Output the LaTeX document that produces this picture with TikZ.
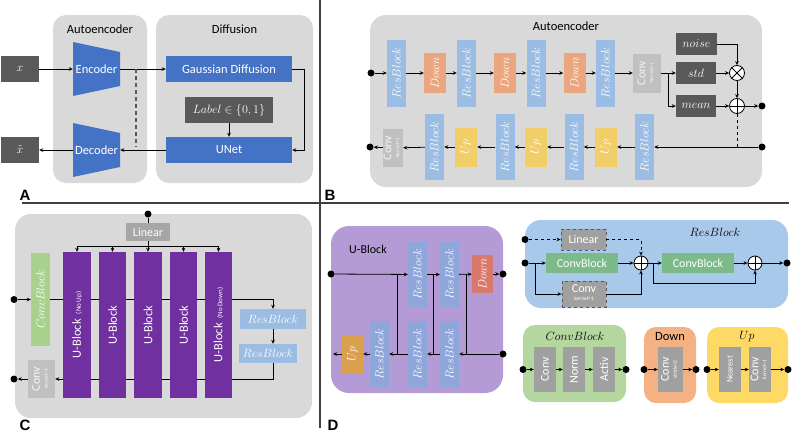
\documentclass[tikz,border=0pt]{standalone}
\usepackage{fontspec}
\setmainfont{Carlito}
\newfontfamily\panelfont{Liberation Sans}
\usepackage{graphicx}
\usepackage{xcolor}
\usepackage{tikz}
\usetikzlibrary{arrows.meta,positioning}
\definecolor{panelgray}{HTML}{D9D9D9}
\definecolor{darkbox}{HTML}{595959}
\definecolor{mainblue}{HTML}{4472C4}
\definecolor{resblue}{HTML}{9BBDE3}
\definecolor{resblueU}{HTML}{8EA6DA}
\definecolor{downorange}{HTML}{EBA67F}
\definecolor{upyellow}{HTML}{F2CE68}
\definecolor{convgray}{HTML}{C0C0C0}
\definecolor{lingray}{HTML}{A6A6A6}
\definecolor{cbgreen}{HTML}{A9D18E}
\definecolor{ublock}{HTML}{7030A0}
\definecolor{lilac}{HTML}{B59BD5}
\definecolor{downred}{HTML}{D9796B}
\definecolor{uporange}{HTML}{D9A04E}
\definecolor{resbg}{HTML}{A9C9EA}
\definecolor{cbgreenR}{HTML}{7DBA89}
\definecolor{smallgray}{HTML}{A0A0A0}
\definecolor{greenbg}{HTML}{B4D7A0}
\definecolor{downbg}{HTML}{F4B183}
\definecolor{upbg}{HTML}{FFD966}
\definecolor{sepline}{HTML}{404040}
\newcommand{\fsz}[1]{\fontsize{#1}{#1}\selectfont}
\newcommand{\vtxt}[1]{\rotatebox{90}{#1}}
\newcommand{\convtxt}[1]{\begin{tabular}{@{}c@{}}Conv\\[-4pt]{\fsz{5.5}#1}\end{tabular}}

\begin{document}
\begin{tikzpicture}[x=1pt, y=-1pt,
      >={Stealth[length=4pt,width=3.6pt]},
      panel/.style={fill=panelgray, rounded corners=16pt, inner sep=0pt},
      blk/.style={inner sep=0pt, align=center, font=\fsz{12}},
      dark/.style={blk, fill=darkbox, text=white},
      bluebox/.style={blk, fill=mainblue, text=white, font=\fsz{12.5}},
      resb/.style={blk, fill=resblue, text=white, minimum width=19pt},
      resbU/.style={blk, fill=resblueU, text=white, minimum width=19pt},
      downb/.style={blk, fill=downorange, text=white, minimum width=22pt},
      upb/.style={blk, fill=upyellow, text=white, minimum width=22pt},
      convb/.style={blk, fill=convgray, text=white!92!gray},
      purpb/.style={blk, fill=ublock, text=white, font=\fsz{12.5}},
      grayb/.style={blk, fill=smallgray, text=white},
      dashbox/.style={blk, fill=smallgray, text=white, draw=darkbox, dashed, line width=0.8pt},
      greenR/.style={blk, fill=cbgreenR, text=white},
      title/.style={font=\fsz{12.5}},
      tag/.style={font=\panelfont\bfseries\fsz{15}},
      arr/.style={->, line width=0.8pt},
      line/.style={line width=0.8pt},
      dot/.style={circle, fill=black, inner sep=0pt, minimum size=7pt},
      sumnode/.style={circle, draw, fill=white, inner sep=0pt, minimum size=15pt, line width=0.8pt}
    ]
    \useasboundingbox (0,0) rectangle (793,434);
    \draw[sepline, line width=1.1pt] (22,203) -- (789,203);
    \draw[sepline, line width=1.1pt] (320,0) -- (320,428);

    % A
    \node[panel, rounded corners=13pt, minimum width=94pt, minimum height=168pt] (aeA) at (100,99) {};
    \node[panel, rounded corners=13pt, minimum width=157pt, minimum height=168pt] (dfA) at (234.5,99) {};
    \node[title] (aeAt) at (100,29) {Autoencoder};
    \node[title] (dfAt) at (234.5,29) {Diffusion};
    \fill[mainblue] (73,42) -- (120,52) -- (120,86) -- (73,96) -- cycle;
    \fill[mainblue] (73,123) -- (120,133) -- (120,167) -- (73,177) -- cycle;
    \node[blk, text=white, font=\fsz{12.5}, minimum width=47pt, minimum height=20pt] (enc) at (96.5,69) {Encoder};
    \node[blk, text=white, font=\fsz{12.5}, minimum width=47pt, minimum height=20pt] (dec) at (96.5,150) {Decoder};
    \node[dark, minimum width=38pt, minimum height=26pt] (xin) at (20,69) {$x$};
    \node[dark, minimum width=38pt, minimum height=26pt] (xout) at (20,150) {$\tilde{x}$};
    \node[bluebox, minimum width=126pt, minimum height=26pt] (gauss) at (229,69) {Gaussian Diffusion};
    \node[bluebox, minimum width=126pt, minimum height=26pt] (unet) at (229,150) {UNet};
    \node[dark, minimum width=88pt, minimum height=26pt, font=\fsz{13}] (lab) at (229,110) {$Label \in \{0,1\}$};
    \draw[arr] (xin) -- (enc);
    \draw[arr] (enc) -- (gauss);
    \draw[arr] (gauss.east) -- ++(12,0) |- (unet.east);
    \draw[arr] (lab) -- (unet);
    \draw[arr] (unet) -- (dec);
    \draw[arr] (dec) -- (xout);
    \coordinate (tapT) at (136,69);
    \coordinate (tapB) at (136,147);
    \draw[darkbox, line width=1.3pt, dash pattern=on 4pt off 3pt] (tapT) -- (tapB);
    \node[tag] (tagA) at (25,195) {A};

    % B
    \node[panel, minimum width=392pt, minimum height=172pt] (aeB) at (566,101) {};
    \node[title] (aeBt) at (566,26) {Autoencoder};
    \node[dot] (inB) at (371,73) {};
    \foreach \n/\x in {rb1/396.5, rb2/466.5, rb3/536, rb4/605.5}
      \node[resb, minimum height=67pt] (\n) at (\x,73) {\vtxt{$ResBlock$}};
    \foreach \n/\x in {dn1/435, dn2/505, dn3/574.5}
      \node[downb, minimum height=40pt] (\n) at (\x,73) {\vtxt{$Down$}};
    \node[convb, minimum width=28pt, minimum height=39pt] (cvB) at (647,73) {\vtxt{\convtxt{Kernel=1}}};
    \node[dark, minimum width=41pt, minimum height=22pt] (noise) at (696.5,44) {$noise$};
    \node[dark, minimum width=40pt, minimum height=22pt] (std) at (696,73) {$std$};
    \node[dark, minimum width=40pt, minimum height=22pt] (mean) at (696,106) {$mean$};
    \node[sumnode] (mulB) at (737,73) {};
    \node[sumnode] (addB) at (737,106) {};
    \draw[line] (mulB.north west) -- (mulB.south east) (mulB.north east) -- (mulB.south west);
    \draw[line] (addB.north) -- (addB.south) (addB.west) -- (addB.east);
    \node[dot] (outB) at (762,106) {};
    \foreach \a/\b in {inB/rb1, rb1/dn1, dn1/rb2, rb2/dn2, dn2/rb3, rb3/dn3, dn3/rb4, rb4/cvB, cvB/std, std/mulB, mulB/addB, mean/addB, addB/outB}
      \draw[arr] (\a) -- (\b);
    \draw[arr] (cvB.east) ++(7,0) |- (mean);
    \draw[arr] (noise) -| (mulB);
    \node[dot] (inB2) at (762,147) {};
    \coordinate (tapB2) at (737,147);
    \draw[line, dashed] (addB) -- (tapB2);
    \foreach \n/\x in {rb5/644.5, rb6/574, rb7/505, rb8/434.5}
      \node[resb, minimum height=66pt] (\n) at (\x,147) {\vtxt{$ResBlock$}};
    \foreach \n/\x in {up1/606, up2/536, up3/466}
      \node[upb, minimum height=39pt] (\n) at (\x,147) {\vtxt{$Up$}};
    \node[convb, minimum width=20pt, minimum height=38pt] (cvB2) at (393,148) {\vtxt{\convtxt{Kernel=1}}};
    \node[dot] (outB2) at (370,147) {};
    \foreach \a/\b in {inB2/rb5, rb5/up1, up1/rb6, rb6/up2, up2/rb7, rb7/up3, up3/rb8, rb8/cvB2, cvB2/outB2}
      \draw[arr] (\a) -- (\b);
    \node[tag] (tagB) at (330,195) {B};

    % C
    \node[panel, minimum width=297pt, minimum height=204pt] (unC) at (163.5,316) {};
    \node[blk, fill=lingray, text=white, minimum width=44pt, minimum height=18pt] (linC) at (148,232) {Linear};
    \node[dot] (topC) at (148,214) {};
    \node[blk, fill=cbgreen, text=white, minimum width=19pt, minimum height=93pt] (cbC) at (40.5,299.5) {\vtxt{$ConvBlock$}};
    \node[resb, minimum width=66pt, minimum height=20pt] (rbC1) at (273,319) {$ResBlock$};
    \node[resb, minimum width=58pt, minimum height=19pt] (rbC2) at (268,353.5) {$ResBlock$};
    \node[convb, minimum width=27pt, minimum height=38pt] (cvC) at (41.5,379) {\vtxt{\convtxt{Kernel=1}}};
    \node[dot] (inC) at (14,299.5) {};
    \node[dot] (outC) at (14,379) {};
    \draw[arr] (inC) -- (cbC);
    \draw[arr] (cbC) -| (rbC1);
    \draw[arr] (rbC1) -- (rbC1 |- rbC2.north);
    \draw[arr] (rbC2.south -| rbC1) |- (cvC);
    \draw[arr] (cvC) -- (outC);
    \foreach \i/\x/\note in {1/77/\hspace{5pt}(No Up), 2/112.5/, 3/148/, 4/183.5/, 5/218.5/\hspace{5pt}(No Down)}
      \node[purpb, minimum width=27.5pt, minimum height=146pt] (ub\i) at (\x,325) {\vtxt{U-Block{\fsz{7}\note}}};
    \coordinate (busC) at (148,246);
    \draw[line] (topC) -- (linC);
    \draw[line] (linC) -- (busC);
    \draw[line] (ub1 |- busC) -- (ub5 |- busC);
    \foreach \i in {1,...,5}
      \draw[arr] (ub\i |- busC) -- (ub\i);
    \node[tag] (tagC) at (25,425) {C};

    % D: U-Block
    \node[panel, fill=lilac, rounded corners=18pt, minimum width=172pt, minimum height=167pt] (ubD) at (417,309.5) {};
    \node[font=\fsz{12}] (ubDt) at (368,249) {U-Block};
    \node[dot] (inD) at (331,274) {};
    \node[dot] (outD) at (503,274) {};
    \node[dot] (inD2) at (503,354) {};
    \coordinate (endD) at (333,354);
    \node[resbU, minimum height=65pt] (rtD1) at (417.5,274.5) {\vtxt{$ResBlock$}};
    \node[resbU, minimum height=65pt] (rtD2) at (449.5,274.5) {\vtxt{$ResBlock$}};
    \node[blk, fill=downred, text=white, minimum width=21pt, minimum height=38pt] (dnD) at (482.5,274) {\vtxt{$Down$}};
    \foreach \n/\x in {rbD1/379.5, rbD2/417.5, rbD3/449.5}
      \node[resbU, minimum height=66pt] (\n) at (\x,354) {\vtxt{$ResBlock$}};
    \node[blk, fill=uporange, text=white, minimum width=21pt, minimum height=38pt] (upD) at (352.5,354) {\vtxt{$Up$}};
    \foreach \a/\b in {inD/rtD1, rtD1/rtD2, rtD2/dnD, dnD/outD, inD2/rbD3, rbD3/rbD2, rbD2/rbD1, rbD1/upD, upD/endD}
      \draw[arr] (\a) -- (\b);
    \foreach \s/\x in {skA/397, skB/433, skC/466} {
      \coordinate (\s) at (\x,274);
      \draw[line] (\s) -- (\s |- rbD1);
    }
    \node[tag] (tagD) at (333,425) {D};

    % D: ResBlock
    \node[panel, fill=resbg, minimum width=263pt, minimum height=88pt] (rbP) at (656.5,264) {};
    \node[font=\fsz{13}] (rbPt) at (715,232) {$ResBlock$};
    \node[dashbox, minimum width=45pt, minimum height=21pt] (linR) at (583.5,239.5) {Linear};
    \node[greenR, minimum width=72pt, minimum height=20pt] (cbR1) at (582,263) {ConvBlock};
    \node[dashbox, minimum width=44pt, minimum height=26pt] (cvR) at (584,294) {\convtxt{kernel=1}};
    \node[sumnode, minimum size=14pt] (addR1) at (641,263) {};
    \node[greenR, minimum width=72pt, minimum height=20pt] (cbR2) at (698,263) {ConvBlock};
    \node[sumnode, minimum size=14pt] (addR2) at (755,263) {};
    \draw[line] (addR1.north) -- (addR1.south) (addR1.west) -- (addR1.east);
    \draw[line] (addR2.north) -- (addR2.south) (addR2.west) -- (addR2.east);
    \node[dot] (dlR) at (525,239.5) {};
    \node[dot] (inR) at (525,263) {};
    \node[dot] (outR) at (787,263) {};
    \draw[arr, dashed] (dlR) -- (linR);
    \draw[arr, dashed] (linR) -| (addR1);
    \draw[arr] (inR) -- (cbR1);
    \draw[arr] (inR) ++(10,0) |- (cvR);
    \draw[arr] (cvR) -| (addR1);
    \draw[arr] (cbR1) -- (addR1);
    \draw[arr] (addR1) -- (cbR2);
    \draw[arr] (addR1.east) ++(5,0) -- ++(0,20) -| (addR2);
    \draw[arr] (cbR2) -- (addR2);
    \draw[arr] (addR2) -- (outR);

    % D: ConvBlock, Down, Up
    \node[panel, rounded corners=12pt, fill=greenbg, minimum width=103pt, minimum height=77pt] (cbP) at (574.5,363.5) {};
    \node[font=\fsz{13}] (cbPt) at (575,336) {$ConvBlock$};
    \node[grayb, minimum width=22pt, minimum height=45pt] (cvP) at (545,369.5) {\vtxt{Conv}};
    \node[grayb, minimum width=22pt, minimum height=45pt] (nmP) at (574,369.5) {\vtxt{Norm}};
    \node[grayb, minimum width=22pt, minimum height=45pt] (acP) at (604,369.5) {\vtxt{Activ}};
    \node[dot] (cbIn) at (523,369.5) {};
    \node[dot] (cbOut) at (626,369.5) {};
    \node[panel, rounded corners=12pt, fill=downbg, minimum width=52pt, minimum height=76pt] (dnP) at (670,365) {};
    \node[title] (dnPt) at (670,337) {Down};
    \node[grayb, minimum width=25pt, minimum height=45pt] (dcP) at (670.5,369.5) {\vtxt{\convtxt{stride=2}}};
    \node[dot] (dnIn) at (644,369.5) {};
    \node[dot] (dnOut) at (696,369.5) {};
    \node[panel, rounded corners=12pt, fill=upbg, minimum width=81pt, minimum height=76pt] (upP) at (747.5,365) {};
    \node[font=\fsz{13}] (upPt) at (747,337) {$Up$};
    \node[grayb, minimum width=22pt, minimum height=45pt] (nrP) at (730,369.5) {\vtxt{\fsz{8.5}Nearest}};
    \node[grayb, minimum width=22pt, minimum height=45pt] (ucP) at (760,369.5) {\vtxt{\convtxt{kernel=1}}};
    \node[dot] (upIn) at (707,369.5) {};
    \node[dot] (upOut) at (788,369.5) {};
    \foreach \a/\b in {cbIn/cvP, cvP/nmP, nmP/acP, acP/cbOut, dnIn/dcP, dcP/dnOut, upIn/nrP, nrP/ucP, ucP/upOut}
      \draw[arr] (\a) -- (\b);
  \end{tikzpicture}
\end{document}
